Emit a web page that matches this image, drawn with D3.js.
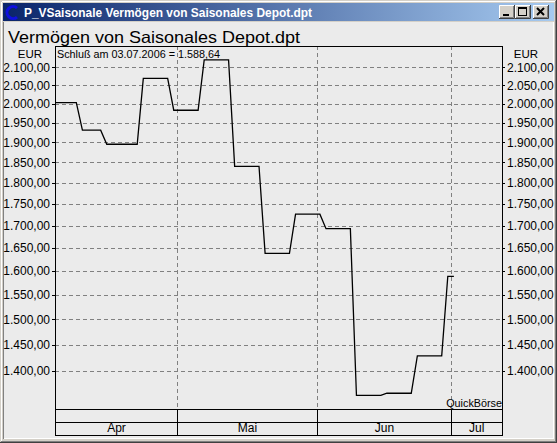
<!DOCTYPE html>
<html>
<head>
    <meta charset="utf-8">
    <title>Vermögen</title>
    <script src="https://cdn.jsdelivr.net/npm/d3@7"></script>
    <style>
        body { margin: 0; background: #d4d0c8; }
        text { font-family: "Liberation Sans", Arial, sans-serif; }
    </style>
</head>
<body>
    <svg width="557" height="443" id="mainsvg"></svg>
    <script>
        // values (weekly depot value, vertices of the line)
        const pointDates = ["31.03.2006", "06.04.2006", "07.04.2006", "12.04.2006", "13.04.2006", "20.04.2006",
            "21.04.2006", "27.04.2006", "28.04.2006", "04.05.2006", "05.05.2006", "11.05.2006", "12.05.2006",
            "18.05.2006", "19.05.2006", "25.05.2006", "26.05.2006", "01.06.2006", "02.06.2006", "08.06.2006",
            "09.06.2006", "15.06.2006", "16.06.2006", "22.06.2006", "23.06.2006", "29.06.2006", "30.06.2006",
            "03.07.2006"];
        const pointValues = [2003, 2003, 1931, 1931, 1895, 1895, 2069, 2069, 1983, 1983, 2121, 2121, 1840,
            1840, 1638, 1638, 1726, 1726, 1693, 1693, 1355, 1355, 1359, 1359, 1428.5, 1428.5, 1588.64,
            1588.64];
        const yTicks = [1400, 1450, 1500, 1550, 1600, 1650, 1700, 1750, 1800, 1850, 1900, 1950, 2000, 2050, 2100];
        const monthNames = ["Apr", "Mai", "Jun", "Jul"];
        const monthStarts = ["03.04.2006", "01.05.2006", "01.06.2006", "03.07.2006"];

        const windowTitle = "P_VSaisonale Vermögen von Saisonales Depot.dpt";
        const chartTitle = "Vermögen von Saisonales Depot.dpt";
        const lastInfo = "Schluß am 03.07.2006 = 1.588,64";

        const parse = d3.timeParse("%d.%m.%Y");
        const fmt = d3.formatLocale({ decimal: ",", thousands: ".", grouping: [3], currency: ["", " €"] }).format(",.2f");

        const svg = d3.select('#mainsvg');
        const W = +svg.attr('width'), H = +svg.attr('height');

        // ---------- window chrome ----------
        svg.append('rect').attr('width', W).attr('height', H).attr('fill', '#d4d0c8');
        const edge = (x1, y1, x2, y2, c) => svg.append('line')
            .attr('x1', x1).attr('y1', y1).attr('x2', x2).attr('y2', y2)
            .attr('stroke', c).attr('shape-rendering', 'crispEdges');
        edge(0.5, 0.5, W - 0.5, 0.5, '#d4d0c8'); edge(0.5, 0.5, 0.5, H - 0.5, '#d4d0c8');
        edge(1.5, 1.5, W - 1.5, 1.5, '#ffffff'); edge(1.5, 1.5, 1.5, H - 1.5, '#ffffff');
        edge(W - 0.5, 0, W - 0.5, H, '#404040'); edge(0, H - 0.5, W, H - 0.5, '#404040');
        edge(W - 1.5, 1, W - 1.5, H - 1, '#808080'); edge(1, H - 1.5, W - 1, H - 1.5, '#808080');

        const defs = svg.append('defs');
        const grad = defs.append('linearGradient').attr('id', 'cap');
        grad.append('stop').attr('offset', '0%').attr('stop-color', '#0a246a');
        grad.append('stop').attr('offset', '100%').attr('stop-color', '#a6caf0');
        svg.append('rect').attr('x', 3).attr('y', 3).attr('width', W - 6).attr('height', 18).attr('fill', 'url(#cap)');

        // little app icon
        svg.append('path').attr('d', 'M17,8 A6,6 0 1 0 17,17')
            .attr('fill', 'none').attr('stroke', '#1010e0').attr('stroke-width', 3);
        svg.append('text').attr('x', 24).attr('y', 17).attr('fill', '#fff')
            .attr('font-weight', 'bold').attr('font-size', 12.5)
            .attr('textLength', 288).attr('lengthAdjust', 'spacingAndGlyphs').text(windowTitle);

        // caption buttons
        const btns = [{ x: 499, k: 'min' }, { x: 515, k: 'max' }, { x: 533, k: 'close' }];
        btns.forEach(b => {
            const g = svg.append('g').attr('transform', `translate(${b.x},5)`);
            g.append('rect').attr('width', 16).attr('height', 14).attr('fill', '#d4d0c8');
            g.append('path').attr('d', 'M0.5,13.5 V0.5 H15.5').attr('stroke', '#fff').attr('fill', 'none');
            g.append('path').attr('d', 'M0,13.5 H15.5 V0').attr('stroke', '#404040').attr('fill', 'none');
            g.append('path').attr('d', 'M1,12.5 H14.5 V1').attr('stroke', '#808080').attr('fill', 'none');
            if (b.k === 'min') g.append('rect').attr('x', 4).attr('y', 9).attr('width', 6).attr('height', 2).attr('fill', '#000');
            if (b.k === 'max') {
                g.append('rect').attr('x', 3.5).attr('y', 2.5).attr('width', 8).attr('height', 8)
                    .attr('fill', 'none').attr('stroke', '#000');
                g.append('rect').attr('x', 3).attr('y', 2).attr('width', 9).attr('height', 2).attr('fill', '#000');
            }
            if (b.k === 'close') g.append('path').attr('d', 'M4,3 L11,10 M11,3 L4,10')
                .attr('stroke', '#000').attr('stroke-width', 2);
        });

        // client area
        svg.append('rect').attr('x', 4).attr('y', 22).attr('width', W - 8).attr('height', H - 27).attr('fill', '#ebebeb');
        edge(3.5, 22, 3.5, H - 4, '#808080'); edge(W - 3.5, 22, W - 3.5, H - 4, '#ffffff');
        edge(3.5, H - 4.5, W - 3.5, H - 4.5, '#ffffff');

        // ---------- chart ----------
        const plot = { left: 55, right: 502, top: 46, bottom: 409 };
        const band = { mid: 422, bottom: 435 };

        const isWeekday = d => d.getDay() % 6 !== 0;
        const origin = parse(monthStarts[0]);
        // position counted in trading days (weekdays) from the first April trading day
        const slot = d => d < origin
            ? -d3.timeDay.range(d, origin).filter(isWeekday).length
            : d3.timeDay.range(origin, d).filter(isWeekday).length;

        const xs = d3.scaleLinear().domain([0, 73.4]).range([plot.left, plot.right]);
        const x = d => xs(slot(d) + 0.5);
        const y = d3.scaleLog().domain([1400, 2100]).range([371, 67.3]);

        svg.append('text').attr('x', 8).attr('y', 43).attr('font-size', 16.5).attr('fill', '#000')
            .attr('textLength', 292).attr('lengthAdjust', 'spacingAndGlyphs').text(chartTitle);

        // grid
        const grid = svg.append('g').attr('stroke', '#808080').attr('stroke-dasharray', '4,3')
            .attr('shape-rendering', 'crispEdges');
        grid.selectAll('.hg').data(yTicks).join('line').attr('class', 'hg')
            .attr('x1', plot.left).attr('x2', plot.right)
            .attr('y1', d => Math.round(y(d)) + 0.5).attr('y2', d => Math.round(y(d)) + 0.5);
        const monthX = monthStarts.map(s => Math.round(xs(slot(parse(s)))) + 0.5);
        grid.selectAll('.vg').data(monthX.slice(1)).join('line').attr('class', 'vg')
            .attr('x1', d => d).attr('x2', d => d).attr('y1', plot.top).attr('y2', plot.bottom);

        // axes both sides
        const leftAxis = d3.axisLeft(y).tickValues(yTicks).tickFormat(fmt).tickSize(3).tickPadding(2);
        const rightAxis = d3.axisRight(y).tickValues(yTicks).tickFormat(fmt).tickSize(3).tickPadding(2);
        [[leftAxis, plot.left], [rightAxis, plot.right]].forEach(([ax, px]) => {
            const g = svg.append('g').attr('transform', `translate(${px},0)`).call(ax);
            g.select('.domain').remove();
            g.selectAll('line').attr('stroke', '#000').attr('shape-rendering', 'crispEdges');
            g.selectAll('text').attr('font-size', 12).attr('fill', '#000')
                .attr('font-family', '"Liberation Sans", Arial, sans-serif');
        });
        svg.append('text').attr('x', 30).attr('y', 58).attr('text-anchor', 'middle').attr('font-size', 11.5).text('EUR');
        svg.append('text').attr('x', 526).attr('y', 58).attr('text-anchor', 'middle').attr('font-size', 11.5).text('EUR');

        // line
        defs.append('clipPath').attr('id', 'clip').append('rect')
            .attr('x', plot.left).attr('y', plot.top)
            .attr('width', plot.right - plot.left).attr('height', plot.bottom - plot.top);
        const series = pointDates.map((s, i) => ({ date: parse(s), value: pointValues[i] }));
        svg.append('path').datum(series)
            .attr('clip-path', 'url(#clip)')
            .attr('fill', 'none').attr('stroke', '#000').attr('stroke-width', 1.3)
            .attr('d', d3.line().x(d => x(d.date)).y(d => y(d.value)));

        svg.append('text').attr('x', 57).attr('y', 58).attr('font-size', 10.8).text(lastInfo);
        svg.append('text').attr('x', plot.right).attr('y', 407).attr('text-anchor', 'end')
            .attr('font-size', 10.8).text('QuickBörse');

        // month band
        const frame = svg.append('g').attr('stroke', '#000').attr('fill', 'none').attr('shape-rendering', 'crispEdges');
        frame.append('rect').attr('x', plot.left + 0.5).attr('y', plot.top + 0.5)
            .attr('width', plot.right - plot.left).attr('height', band.bottom - plot.top);
        frame.append('line').attr('x1', plot.left).attr('x2', plot.right)
            .attr('y1', plot.bottom + 0.5).attr('y2', plot.bottom + 0.5);
        frame.append('line').attr('x1', plot.left).attr('x2', plot.right)
            .attr('y1', band.mid + 0.5).attr('y2', band.mid + 0.5);
        frame.selectAll('.md').data(monthX.slice(1)).join('line').attr('class', 'md')
            .attr('x1', d => d).attr('x2', d => d).attr('y1', plot.bottom).attr('y2', band.bottom);

        const edges = monthX.concat([plot.right]);
        svg.selectAll('.ml').data(monthNames).join('text').attr('class', 'ml')
            .attr('x', (d, i) => (edges[i] + edges[i + 1]) / 2).attr('y', 432)
            .attr('text-anchor', 'middle').attr('font-size', 12).text(d => d);
    </script>
</body>
</html>
